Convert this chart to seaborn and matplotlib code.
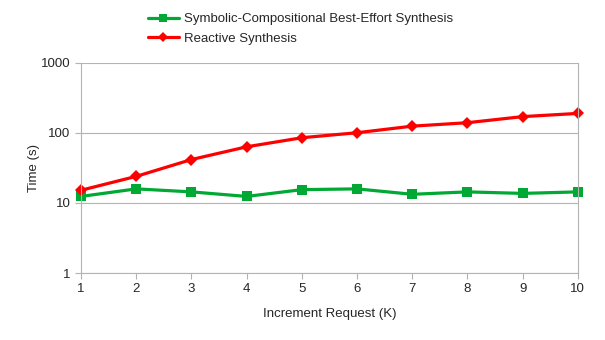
import pandas as pd
import matplotlib.pyplot as plt
import seaborn as sns

k_values = [1, 2, 3, 4, 5, 6, 7, 8, 9, 10]
symbolic_times = [12.4, 15.9, 14.4, 12.4, 15.5, 15.9, 13.3, 14.4, 13.7, 14.4]
reactive_times = [15.2, 24.0, 41.7, 63.4, 85.4, 100.7, 125.0, 140.0, 171.0, 190.0]
series_names = ["Symbolic-Compositional Best-Effort Synthesis", "Reactive Synthesis"]

df = pd.DataFrame({
    "K": k_values * 2,
    "Time": symbolic_times + reactive_times,
    "Method": [series_names[0]] * len(k_values) + [series_names[1]] * len(k_values),
})

sns.set_style("white")
plt.rcParams["font.family"] = ["Liberation Sans", "DejaVu Sans"]

fig, ax = plt.subplots(figsize=(6.05, 3.4), dpi=100)
fig.subplots_adjust(left=0.134, right=0.955, top=0.815, bottom=0.197)

sns.lineplot(
    data=df, x="K", y="Time", hue="Method", style="Method",
    palette=["#00a933", "#ff0000"], markers=["s", "D"], dashes=False,
    markersize=7, linewidth=2.3, markeredgewidth=0, ax=ax,
)
for line in ax.lines:
    line.set_clip_on(False)
    if line.get_marker() == "D":
        line.set_markersize(6)

ax.set_yscale("log")
ax.set_ylim(1, 1000)
ax.set_xlim(1, 10)
ax.set_xticks(k_values)
ax.set_yticks([1, 10, 100, 1000])
ax.set_yticklabels(["1", "10", "100", "1000"])
ax.minorticks_off()
ax.yaxis.grid(True, color="#b3b3b3", linewidth=0.8)
ax.set_axisbelow(True)
for side in ["left", "bottom", "right"]:
    ax.spines[side].set_color("#b3b3b3")
ax.spines["top"].set_visible(False)
ax.tick_params(axis="both", length=4, color="#b3b3b3", labelsize=9.5, bottom=True, left=True)
ax.set_xlabel("Increment Request (K)", fontsize=9.5, labelpad=9)
ax.set_ylabel("Time (s)", fontsize=9.5, labelpad=1)

leg = ax.legend(
    loc="upper left", bbox_to_anchor=(0.245, 0.962), bbox_transform=fig.transFigure,
    frameon=False, fontsize=9.5, handlelength=2.3, handletextpad=0.4,
    borderaxespad=0, borderpad=0, labelspacing=0.55,
)
for h in leg.get_lines():
    h.set_linewidth(2.3)
    h.set_markersize(6 if h.get_marker() == "s" else 5)

fig.savefig("out.png")
